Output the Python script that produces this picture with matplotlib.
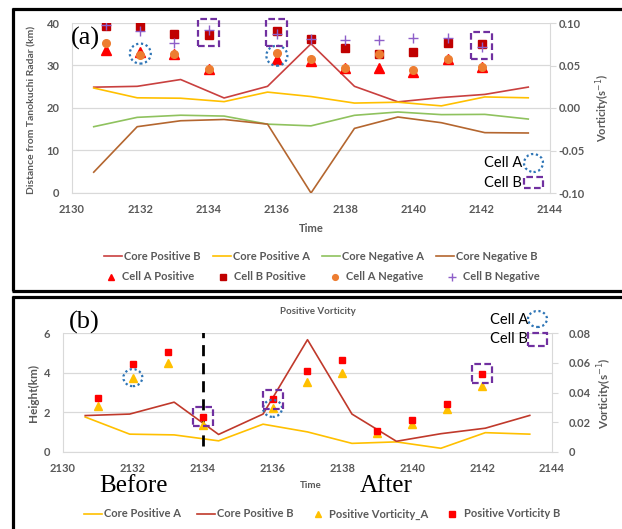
import matplotlib
matplotlib.use("Agg")
import matplotlib.pyplot as plt
from matplotlib.lines import Line2D
from matplotlib.patches import Ellipse, Rectangle
from matplotlib.transforms import ScaledTranslation

plt.rcParams['font.family'] = ['Lato', 'DejaVu Sans']

# ---- data ----
# core lines sit on 11 evenly spaced category slots (secondary axes)
core_slots = list(range(11))
core_pos_b = [0.0245, 0.0255, 0.0335, 0.0118, 0.0255, 0.0755, 0.0255, 0.0072, 0.0123, 0.0160, 0.0246]
core_pos_a = [0.0235, 0.0120, 0.0115, 0.0075, 0.0187, 0.0135, 0.0058, 0.0068, 0.0025, 0.0130, 0.0120]
core_neg_a = [-0.022, -0.011, -0.0085, -0.0095, -0.019, -0.021, -0.0086, -0.0047, -0.0078, -0.0075, -0.013]
core_neg_b = [-0.0755, -0.022, -0.015, -0.0135, -0.019, -0.100, -0.024, -0.0106, -0.0173, -0.029, -0.0294]

times = [2131, 2132, 2133, 2134, 2136, 2137, 2138, 2139, 2140, 2141, 2142]
# (a) distance from Tanokuchi radar (km)
cell_a_pos = [33.75, 33.2, 32.7, 29.1, 31.6, 31.0, 29.3, 29.5, 28.5, 31.5, 29.7]
cell_b_pos = [39.2, 39.2, 37.3, 37.1, 38.1, 36.2, 34.2, 32.6, 33.1, 35.2, 35.0]
cell_a_neg = [35.2, 32.4, 32.8, 29.1, 33.0, 31.6, 29.3, 32.6, 28.9, 31.5, 29.7]
cell_b_neg = [39.6, 38.1, 35.2, 38.4, 37.3, 36.2, 35.9, 35.9, 36.5, 36.5, 34.4]
# (b) height (km)
pv_a = [2.33, 3.75, 4.48, 1.35, 2.20, 3.55, 4.00, 0.96, 1.39, 2.16, 3.33]
pv_b = [2.70, 4.44, 5.05, 1.77, 2.65, 4.07, 4.63, 1.06, 1.61, 2.43, 3.94]

# times picked out with the Cell A / Cell B outlines
a_circle_times = [2132, 2136]
a_square_times = [2134, 2136, 2142]
b_circle_times = [2132, 2136]
b_square_times = [2134, 2136, 2142]
split_time = 2134

# ---- styling ----
W, H = 622, 529
GRAY = '#595959'
GRID = '#D9D9D9'
CIRC = '#2E75B6'
SQR = '#7030A0'
tick_font = {'size': 8, 'weight': 'bold'}

fig = plt.figure(figsize=(W / 100, H / 100), dpi=100)


def rect(left, top, right, bottom):
    return [left / W, 1 - bottom / H, (right - left) / W, (bottom - top) / H]


def ftext(x, y, s, **kw):
    fig.text(x / W, 1 - y / H, s, **kw)


def outline(x, y, w, h, kind, ax=None):
    # w, h in pixels; centre in data coords of ax, or in figure pixels
    if ax is not None:
        tr = fig.dpi_scale_trans + ScaledTranslation(x, y, ax.transData)
    else:
        tr = fig.dpi_scale_trans + ScaledTranslation(x / W, 1 - y / H, fig.transFigure)
    if kind == 'circle':
        p = Ellipse((0, 0), w / 100, h / 100, fill=False, ls=(0, (1, 1.2)), lw=1.6,
                    ec=CIRC, transform=tr, clip_on=False)
    else:
        p = Rectangle((-w / 200, -h / 200), w / 100, h / 100, fill=False, ls=(0, (3, 1.5)),
                      lw=1.6, ec=SQR, transform=tr, clip_on=False)
    fig.add_artist(p)


def base_axes(r, ylim, yticks, rlim, rticks, rfmt):
    ax = fig.add_axes(r)
    ax.set_xlim(2130, 2144)
    ax.set_xticks(range(2130, 2145, 2))
    ax.set_ylim(*ylim)
    ax.set_yticks(yticks)
    ax.grid(axis='y', color=GRID, lw=0.9)
    ax.set_axisbelow(True)
    for s in ['top', 'right']:
        ax.spines[s].set_visible(False)
    for s in ['left', 'bottom']:
        ax.spines[s].set_color(GRID)
    ax.tick_params(length=0, colors=GRAY)
    ax.tick_params(axis='y', pad=9)
    ax.tick_params(axis='x', pad=8)
    for lab in ax.get_xticklabels() + ax.get_yticklabels():
        lab.set_fontsize(8)
        lab.set_fontweight('bold')
    axr = ax.twinx()
    axr.set_ylim(*rlim)
    axr.set_yticks(rticks)
    axr.set_yticklabels([rfmt(v) for v in rticks], **tick_font, color=GRAY)
    for s in ['top', 'left', 'bottom']:
        axr.spines[s].set_visible(False)
    axr.spines['right'].set_color(GRID)
    axr.tick_params(axis='y', length=4, color=GRID, pad=2)
    return ax, axr


def overlay(r, xlim, ylim):
    o = fig.add_axes(r, frameon=False)
    o.set_xlim(*xlim)
    o.set_ylim(*ylim)
    o.axis('off')
    return o


# ================= panel (a) =================
ra = rect(72, 23, 550, 193)
ax_a, ax_ar = base_axes(ra, (0, 40), range(0, 41, 10), (-0.1, 0.1),
                        [-0.10, -0.05, 0.0, 0.05, 0.10], lambda v: f'{v:.2f}')
ax_ar.tick_params(pad=2)
lines_a = overlay(ra, (-0.5, 10.5), (-0.1, 0.1))
h_cpb, = lines_a.plot(core_slots, core_pos_b, color='#C9403F', lw=1.2, label='Core Positive B')
h_cpa, = lines_a.plot(core_slots, core_pos_a, color='#FFC000', lw=1.2, label='Core Positive A')
h_cna, = lines_a.plot(core_slots, core_neg_a, color='#8FC25E', lw=1.2, label='Core Negative A')
h_cnb, = lines_a.plot(core_slots, core_neg_b, color='#B4662F', lw=1.2, label='Core Negative B')

mk_a = overlay(ra, (2130, 2144), (0, 40))
h_ap, = mk_a.plot(times, cell_a_pos, ls='none', marker='^', ms=6.5, color='#FF0000', label='Cell A Positive')
h_bp, = mk_a.plot(times, cell_b_pos, ls='none', marker='s', ms=6, color='#C00000', label='Cell B Positive')
h_an, = mk_a.plot(times, cell_a_neg, ls='none', marker='o', ms=5.5, color='#ED7D31', label='Cell A Negative')
h_bn, = mk_a.plot(times, cell_b_neg, ls='none', marker='+', ms=7, mew=1, color='#8E5FC9', label='Cell B Negative')

for t in a_circle_times:
    i = times.index(t)
    outline(t, (cell_a_pos[i] + cell_a_neg[i]) / 2, 21, 20, 'circle', mk_a)
for t in a_square_times:
    i = times.index(t)
    outline(t, (cell_b_pos[i] + cell_b_neg[i]) / 2, 21, 27, 'square', mk_a)

ftext(85, 38, '(a)', family='Liberation Serif', size=19, ha='center', va='center')
ftext(32, 110, 'Distance from Tanokuchi Radar (km)', rotation=90, ha='center', va='center',
      size=7.5, weight='bold', color=GRAY)
ftext(603, 108, 'Vorticity(s$^{-1}$)', rotation=90, ha='center', va='center',
      size=8, weight='bold', color=GRAY)
ftext(311, 228, 'Time', ha='center', va='center', size=8, weight='bold', color=GRAY)
ftext(503, 163, 'Cell A', ha='center', va='center', size=10.5)
ftext(503, 183, 'Cell B', ha='center', va='center', size=10.5)
outline(533.5, 163, 19, 18, 'circle')
outline(533.5, 182.5, 19, 11, 'square')

leg_kw = dict(loc='center', frameon=False, ncol=4, prop={'size': 8, 'weight': 'bold'},
              labelcolor=GRAY, handlelength=1.6, handletextpad=0.2, columnspacing=1.1,
              borderpad=0, borderaxespad=0)
fig.legend(handles=[h_cpb, h_cpa, h_cna, h_cnb], bbox_to_anchor=(321 / W, 1 - 256 / H), **leg_kw)
fig.legend(handles=[h_ap, h_bp, h_an, h_bn], bbox_to_anchor=(321 / W, 1 - 277 / H),
           markerscale=0.75, **dict(leg_kw, columnspacing=1.8))

# ================= panel (b) =================
rb = rect(63, 333, 552, 452)
ax_b, ax_br = base_axes(rb, (0, 6), [0, 2, 4, 6], (0, 0.08),
                        [0, 0.02, 0.04, 0.06, 0.08], lambda v: '0' if v == 0 else f'{v:.2f}')
ax_br.tick_params(pad=8)
lines_b = overlay(rb, (-0.5, 10.5), (0, 0.08))
g_cpa, = lines_b.plot(core_slots, core_pos_a, color='#FFC000', lw=1.2, label='Core Positive A')
g_cpb, = lines_b.plot(core_slots, core_pos_b, color='#C0392B', lw=1.2, label='Core Positive B')

mk_b = overlay(rb, (2130, 2144), (0, 6))
mk_b.vlines(split_time, 0.3, 6.05, colors='black', linestyles=(0, (4, 2.5)), lw=2)
g_pa, = mk_b.plot(times, pv_a, ls='none', marker='^', ms=6, color='#FFC000', label='Positive Vorticity_A')
g_pb, = mk_b.plot(times, pv_b, ls='none', marker='s', ms=5, color='#FF0000', label='Positive Vorticity B')

for t in b_circle_times:
    outline(t, pv_a[times.index(t)], 19, 17, 'circle', mk_b)
for t in b_square_times:
    outline(t, pv_b[times.index(t)], 20, 19, 'square', mk_b)

ftext(84, 322, '(b)', family='Liberation Serif', size=19, ha='center', va='center')
ftext(318, 312, 'Positive Vorticity', ha='center', va='center', size=7, weight='bold', color=GRAY)
ftext(33, 393, 'Height(km)', rotation=90, ha='center', va='center', size=8.5, weight='bold', color=GRAY)
ftext(605, 393, 'Vorticity(s$^{-1}$)', rotation=90, ha='center', va='center',
      size=8.5, weight='bold', color=GRAY)
ftext(311, 486, 'Time', ha='center', va='center', size=7, weight='bold', color=GRAY)
ftext(133, 486, 'Before', family='Liberation Serif', size=18, ha='center', va='center')
ftext(386, 486, 'After', family='Liberation Serif', size=18, ha='center', va='center')
ftext(509, 320, 'Cell A', ha='center', va='center', size=10.5)
ftext(509, 339, 'Cell B', ha='center', va='center', size=10.5)
outline(537.5, 319, 19, 16, 'circle')
outline(537.5, 339.5, 19, 13, 'square')

fig.legend(handles=[g_cpa, g_cpb, g_pa, g_pb], bbox_to_anchor=(322 / W, 1 - 514 / H),
           markerscale=0.75, **dict(leg_kw, columnspacing=1.4))

# ---- panel frames ----
bk = dict(color='black', lw=2.3, transform=fig.transFigure, solid_capstyle='butt')
fig.add_artist(Line2D([12 / W, 1.0], [1 - 9 / H] * 2, **bk))
fig.add_artist(Line2D([13 / W] * 2, [1 - 8 / H, 1 - 291 / H], **bk))
fig.add_artist(Line2D([12 / W, 1.0], [1 - 291 / H] * 2, **bk))
fig.add_artist(Line2D([12 / W, 1.0], [1 - 296.5 / H] * 2, **bk))
fig.add_artist(Line2D([13 / W] * 2, [1 - 296 / H, 0.0], **bk))

fig.savefig('out.png', dpi=100)
